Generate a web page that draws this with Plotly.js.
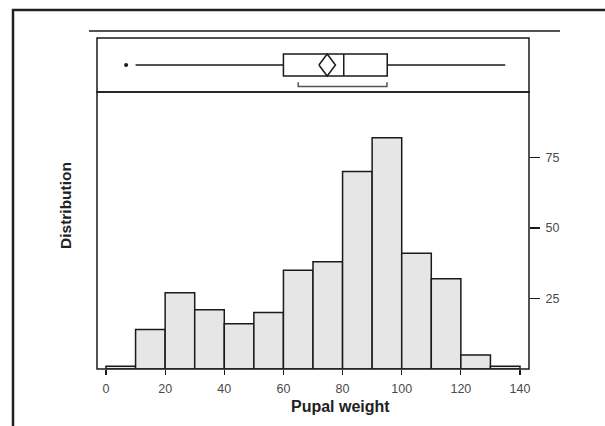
<!DOCTYPE html>
<html>
<head>
<meta charset="utf-8">
<script src="https://cdn.plot.ly/plotly-3.0.1.min.js"></script>
<style>html,body{margin:0;padding:0;background:#fff;}#chart{width:605px;height:426px;}</style>
</head>
<body>
<div id="chart"></div>
<script>
// Histogram data (bin width 10)
var binStarts = [0, 10, 20, 30, 40, 50, 60, 70, 80, 90, 100, 110, 120, 130];
var counts    = [1, 14, 27, 21, 16, 20, 35, 38, 70, 82, 41, 32, 5, 1];
var binWidth  = 10;

// Box plot summary
var boxQ1 = 60;
var boxMedian = 80.4;
var boxQ3 = 95.1;
var boxLowerWhisker = 10;
var boxUpperWhisker = 135;
var boxMean = 74.8;
var outliers = [6.8];
var shortestHalf = [65, 95];

// Tick labels
var xTicks = [0, 20, 40, 60, 80, 100, 120, 140];
var yTicks = [25, 50, 75];

var xTitle = "Pupal weight";
var yTitle = "Distribution";

var font = "Liberation Sans, Arial, Helvetica, sans-serif";
var ink = "#1a1a1a";
var dom = 277 / 331;

var diamondHalfW = 2.8, diamondHalfH = 0.41;

var traces = [
  {
    type: "bar",
    x: binStarts,
    y: counts,
    width: binWidth,
    offset: 0,
    marker: {color: "#e6e6e6", line: {color: ink, width: 1.5}},
    xaxis: "x", yaxis: "y",
    hoverinfo: "x+y",
    showlegend: false
  },
  {
    type: "box",
    orientation: "h",
    y: [0],
    q1: [boxQ1], median: [boxMedian], q3: [boxQ3],
    lowerfence: [boxLowerWhisker], upperfence: [boxUpperWhisker],
    width: 0.82,
    whiskerwidth: 0,
    fillcolor: "#ffffff",
    line: {color: ink, width: 1.5},
    boxpoints: false,
    xaxis: "x", yaxis: "y2",
    showlegend: false
  },
  {
    type: "scatter", mode: "lines",
    x: [boxMean - diamondHalfW, boxMean, boxMean + diamondHalfW, boxMean, boxMean - diamondHalfW],
    y: [0, diamondHalfH, 0, -diamondHalfH, 0],
    line: {color: ink, width: 1.5},
    xaxis: "x", yaxis: "y2", showlegend: false, hoverinfo: "skip"
  },
  {
    type: "scatter", mode: "markers",
    x: outliers, y: outliers.map(function(){return 0;}),
    marker: {color: ink, size: 4},
    xaxis: "x", yaxis: "y2", showlegend: false
  },
  {
    type: "scatter", mode: "lines",
    x: [shortestHalf[0], shortestHalf[0], shortestHalf[1], shortestHalf[1]],
    y: [-0.64, -0.8, -0.8, -0.64],
    line: {color: "#555555", width: 1.5},
    xaxis: "x", yaxis: "y2", showlegend: false, hoverinfo: "skip"
  }
];

var layout = {
  width: 605, height: 426,
  margin: {l: 97, r: 76, t: 38, b: 57, pad: 0},
  paper_bgcolor: "#ffffff", plot_bgcolor: "#ffffff",
  font: {family: font, color: "#444444", size: 12},
  showlegend: false,
  xaxis: {
    range: [-3.043, 143.043],
    tickvals: xTicks,
    ticktext: xTicks.map(String),
    ticks: "outside", ticklen: 5, tickwidth: 1.2, tickcolor: ink,
    ticklabelstandoff: 3,
    showline: false, showgrid: false, zeroline: false,
    anchor: "y",
    tickfont: {size: 12.5, color: "#4a4a4a"}
  },
  yaxis: {
    domain: [0, dom],
    range: [0, 98.2],
    side: "right",
    tickvals: yTicks,
    ticktext: yTicks.map(String),
    ticks: "outside", ticklen: 10, tickwidth: 1.2, tickcolor: ink,
    ticklabelstandoff: 3,
    showline: false, showgrid: false, zeroline: false,
    anchor: "x",
    tickfont: {size: 12.5, color: "#4a4a4a"}
  },
  yaxis2: {
    domain: [dom, 1],
    range: [-1, 1],
    showticklabels: false, ticks: "",
    showline: false, showgrid: false, zeroline: false,
    anchor: "x"
  },
  shapes: [
    {type: "rect", xref: "paper", yref: "paper", x0: 0, x1: 1, y0: 0, y1: dom,
     line: {color: ink, width: 1.5}, fillcolor: "rgba(0,0,0,0)"},
    {type: "rect", xref: "paper", yref: "paper", x0: 0, x1: 1, y0: dom, y1: 1,
     line: {color: ink, width: 1.5}, fillcolor: "rgba(0,0,0,0)"},
    {type: "line", xref: "paper", yref: "paper", x0: -0.01852, x1: 1.07176, y0: 1.02115, y1: 1.02115,
     line: {color: ink, width: 1.5}},
    {type: "rect", xref: "paper", yref: "paper", x0: -0.19444, x1: 1.5, y0: -0.5, y1: 1.08459,
     line: {color: "#222222", width: 2.5}, fillcolor: "rgba(0,0,0,0)"}
  ],
  annotations: [
    {text: yTitle, xref: "paper", yref: "paper", x: -0.07176, y: 0.4955,
     xanchor: "center", yanchor: "middle", textangle: -90, showarrow: false,
     font: {size: 15.5, color: "#222222", family: font, weight: "bold"}},
    {text: xTitle, xref: "paper", yref: "paper", x: 0.5648, y: -0.1118,
     xanchor: "center", yanchor: "middle", showarrow: false,
     font: {size: 16, color: "#222222", family: font, weight: "bold"}}
  ]
};

Plotly.newPlot("chart", traces, layout, {displayModeBar: false, staticPlot: true});
</script>
</body>
</html>
